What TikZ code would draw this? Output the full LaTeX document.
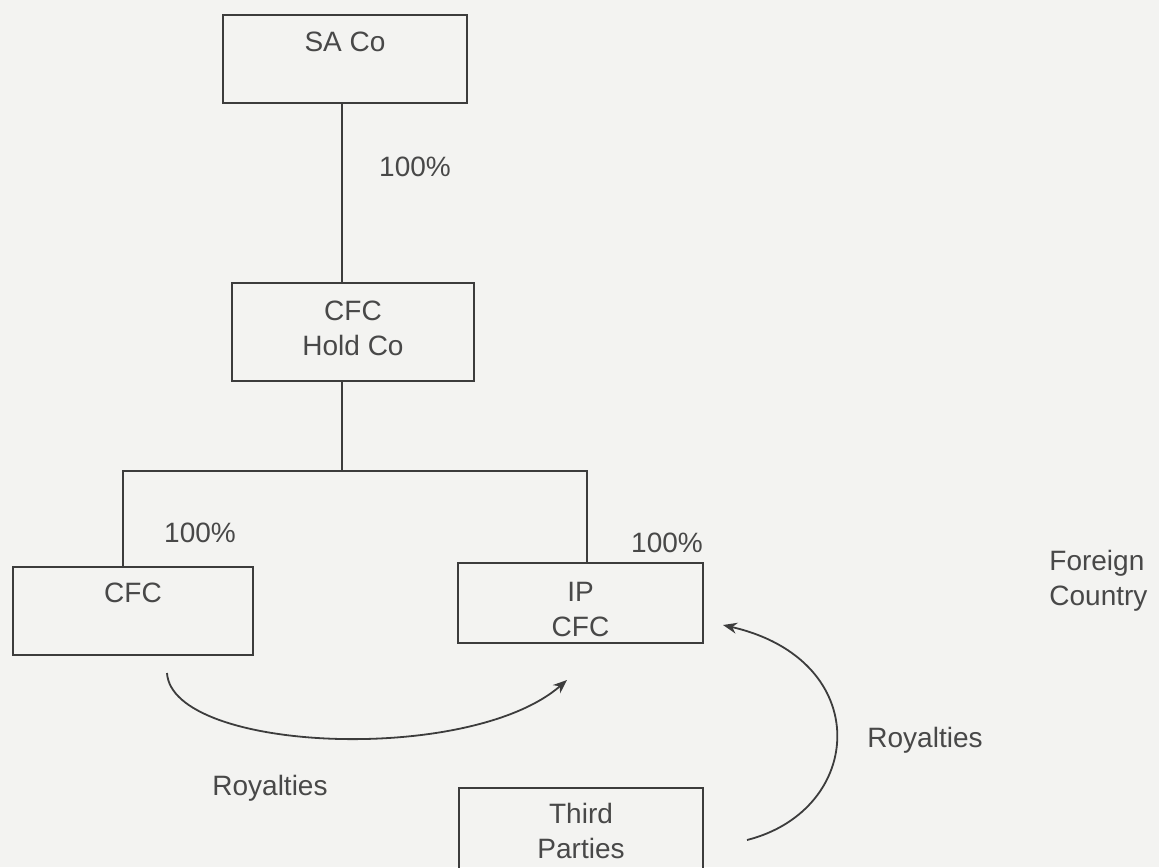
\documentclass[tikz,border=0pt]{standalone}
\usepackage{fontspec}
\setmainfont{Liberation Sans}
\usetikzlibrary{arrows.meta}
\definecolor{bg}{RGB}{243,243,241}
\definecolor{ink}{RGB}{60,60,60}
\definecolor{txtc}{RGB}{72,72,72}
\begin{document}
\begin{tikzpicture}[x=0.5pt,y=-0.5pt,
  box/.style={draw=ink, line width=1pt, rectangle, inner sep=0pt},
  lbl/.style={text=txtc, font=\fontsize{14}{17.5}\selectfont, inner sep=0pt, align=center},
  conn/.style={draw=ink, line width=0.9pt},
  flow/.style={draw=ink, line width=0.9pt, -{Stealth[length=7pt,width=5.5pt]}}]
\fill[bg] (0,0) rectangle (1159,867);
\useasboundingbox (0,0) rectangle (1159,867);
\clip (0,0) rectangle (1159,867);

% boxes
\node[box, minimum width=122pt, minimum height=44pt] (sa) at (345,59) {};
\node[lbl] (satxt) at (345,42) {SA Co};
\node[box, minimum width=121pt, minimum height=49pt] (hold) at (353,332) {};
\node[lbl] (holdtxt) at (353,328) {CFC\\Hold Co};
\node[box, minimum width=120pt, minimum height=44pt] (cfc) at (133,611) {};
\node[lbl] (cfctxt) at (133,593) {CFC};
\node[box, minimum width=122.5pt, minimum height=40pt] (ip) at (580.5,603) {};
\node[lbl] (iptxt) at (580.5,609) {IP\\CFC};
\node[box, minimum width=122pt, minimum height=46pt] (third) at (581,834) {};
\node[lbl] (thirdtxt) at (581,831) {Third\\Parties};

% labels
\node[lbl] (p1) at (415,167) {100\%};
\node[lbl] (p2) at (200,533) {100\%};
\node[lbl] (p3) at (667,543) {100\%};
\node[lbl] (roy1) at (270,788) {Royalties};
\node[lbl] (roy2) at (925,740) {Royalties};
\node[lbl, align=left, anchor=west] (fc) at (1049,581) {Foreign\\Country};

% ownership lines
\coordinate (j1) at (342,471);
\coordinate (jl) at (123,471);
\coordinate (jr) at (587,471);
\draw[conn] (sa.south -| j1) -- (hold.north -| j1);
\draw[conn] (hold.south -| j1) -- (j1);
\draw[conn] (cfc.north -| jl) -- (jl) -- (jr) -- (ip.north -| jr);

% royalty flows
\coordinate (r1s) at (167,673);
\coordinate (r1e) at (567,680);
\draw[flow] (r1s) .. controls (172,752) and (470,765) .. (r1e);
\coordinate (r2s) at (747,840);
\coordinate (r2e) at (723,625);
\draw[flow] (r2s) .. controls (865,810) and (875,660) .. (r2e);
\end{tikzpicture}
\end{document}
